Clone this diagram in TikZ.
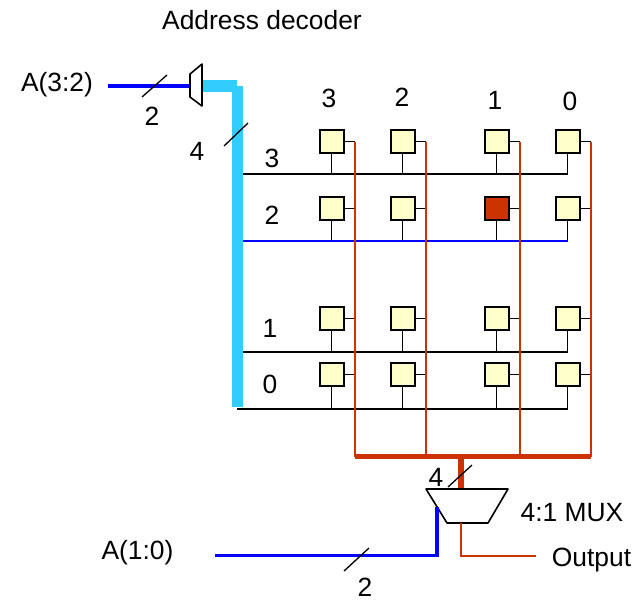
\documentclass[tikz,border=0pt]{standalone}
\usepackage{fontspec}
\setmainfont{Liberation Sans}
\usepackage{tikz}
\usetikzlibrary{positioning}
\definecolor{cellfill}{HTML}{FFFFCC}
\definecolor{muxred}{HTML}{CC3300}
\definecolor{buscyan}{HTML}{33CCFF}
\definecolor{addrblue}{HTML}{0000FF}
\tikzset{
x=1pt, y=-1pt,
node distance=71pt, % column spacing, changed per node where the gap differs
every node/.style={font=\fontsize{26.4}{30}\selectfont, inner sep=0pt, outer sep=0pt},
cell/.style={rectangle, draw=black, line width=2pt, fill=cellfill, minimum width=24pt, minimum height=23pt},
wire/.style={draw=black, line width=1.6pt},
bitline/.style={draw=muxred, line width=1.4pt},
slash/.style={draw=black, line width=1.3pt},
}

\begin{document}
\begin{tikzpicture}
\useasboundingbox (0,0) rectangle (639,600);

% word lines and bit lines
\coordinate (w3) at (243,174);
\coordinate (w2) at (243,241);
\coordinate (w1) at (243,352);
\coordinate (w0) at (237,409);
\coordinate (b3) at (355,141.5);
\coordinate (b2) at (426,141.5);
\coordinate (b1) at (520,141.5);
\coordinate (b0) at (591,141.5);
\coordinate (rbus) at (355,456.5);
\coordinate (rbusend) at (591,456.5);
\coordinate (rdrop) at (461,456.5);

% cells
\node[cell] (c33) at (331.5,141.5) {};
\node[cell, right of=c33] (c32) {};
\node[cell, right of=c32, node distance=94pt] (c31) {};
\node[cell, right of=c31] (c30) {};
\node[cell, below of=c33, node distance=67pt] (c23) {};
\node[cell, right of=c23] (c22) {};
\node[cell, right of=c22, node distance=94pt, fill=muxred] (c21) {};
\node[cell, right of=c21] (c20) {};
\node[cell, below of=c23, node distance=110pt] (c13) {};
\node[cell, right of=c13] (c12) {};
\node[cell, right of=c12, node distance=94pt] (c11) {};
\node[cell, right of=c11] (c10) {};
\node[cell, below of=c13, node distance=56pt] (c03) {};
\node[cell, right of=c03] (c02) {};
\node[cell, right of=c02, node distance=94pt] (c01) {};
\node[cell, right of=c01] (c00) {};

% stems down to the word lines
\draw[wire] (c33) -- (c33 |- w3);
\draw[wire] (c32) -- (c32 |- w3);
\draw[wire] (c31) -- (c31 |- w3);
\draw[wire] (c30) -- (c30 |- w3);
\draw[wire] (c23) -- (c23 |- w2);
\draw[wire] (c22) -- (c22 |- w2);
\draw[wire] (c21) -- (c21 |- w2);
\draw[wire] (c20) -- (c20 |- w2);
\draw[wire] (c13) -- (c13 |- w1);
\draw[wire] (c12) -- (c12 |- w1);
\draw[wire] (c11) -- (c11 |- w1);
\draw[wire] (c10) -- (c10 |- w1);
\draw[wire] (c03) -- (c03 |- w0);
\draw[wire] (c02) -- (c02 |- w0);
\draw[wire] (c01) -- (c01 |- w0);
\draw[wire] (c00) -- (c00 |- w0);

% stubs to the bit lines
\draw[wire] (c33.east) -- (c33.east -| b3);
\draw[wire] (c32.east) -- (c32.east -| b2);
\draw[wire] (c31.east) -- (c31.east -| b1);
\draw[wire] (c30.east) -- (c30.east -| b0);
\draw[wire] (c23.east) -- (c23.east -| b3);
\draw[wire] (c22.east) -- (c22.east -| b2);
\draw[wire] (c21.east) -- (c21.east -| b1);
\draw[wire] (c20.east) -- (c20.east -| b0);
\draw[wire] (c13.east) -- (c13.east -| b3);
\draw[wire] (c12.east) -- (c12.east -| b2);
\draw[wire] (c11.east) -- (c11.east -| b1);
\draw[wire] (c10.east) -- (c10.east -| b0);
\draw[wire] (c03.east) -- (c03.east -| b3);
\draw[wire] (c02.east) -- (c02.east -| b2);
\draw[wire] (c01.east) -- (c01.east -| b1);
\draw[wire] (c00.east) -- (c00.east -| b0);

\draw[wire] (w3) -- (w3 -| c30);
\draw[draw=addrblue, line width=1.4pt] (w2) -- (w2 -| c20);
\draw[wire] (w1) -- (w1 -| c10);
\draw[wire] (w0) -- (w0 -| c00);

\draw[bitline] (b3) -- (b3 |- rbus);
\draw[bitline] (b2) -- (b2 |- rbus);
\draw[bitline] (b1) -- (b1 |- rbus);
\draw[bitline] (b0) -- (b0 |- rbus);

% decoder and its bus
\coordinate (dec1) at (190,74);
\coordinate (dec2) at (202,64);
\coordinate (dec3) at (202,106);
\coordinate (dec4) at (190,97);
\coordinate (a32) at (108,86);
\coordinate (cbend) at (237,86);
\coordinate (cend) at (237.5,407);
\draw[draw=addrblue, line width=3.5pt] (a32) -- (a32 -| dec1);
\draw[draw=buscyan, line width=12pt] (cbend -| dec2) -- (cbend);
\draw[draw=buscyan, line width=11pt] (237.5,86) -- (cend);
\draw[wire, line join=round] (dec1) -- (dec2) -- (dec3) -- (dec4) -- cycle;

% output mux
\coordinate (mux1) at (426,489);
\coordinate (mux2) at (508,489);
\coordinate (mux3) at (488,523);
\coordinate (mux4) at (447,523);
\coordinate (a10) at (215,555.5);
\coordinate (a10up) at (437,507);
\coordinate (outend) at (536,556);
\draw[draw=muxred, line width=5.5pt] (rbus) -- (rbusend);
\draw[draw=muxred, line width=6pt] (rdrop) -- (rdrop |- mux1);
\draw[wire, line join=round] (mux1) -- (mux2) -- (mux3) -- (mux4) -- cycle;
\draw[bitline] (rdrop |- mux4) |- (outend);
\draw[draw=addrblue, line width=3.5pt] (a10) -| (a10up);

% bus width marks
\draw[slash] (142,97) -- (167,75);
\draw[slash] (224,146) -- (248,123);
\draw[slash] (448,487) -- (472,465);
\draw[slash] (344,571) -- (369,548);

% labels
\node (decl) at (262,20.5) {Address decoder};
\node (a32l) at (57,85) {A(3:2)};
\node (a10l) at (137.5,553) {A(1:0)};
\node (muxl) at (572,513) {4:1 MUX};
\node (outl) at (591.5,560) {Output};
\node (wd2) at (152,116) {2};
\node (wd4) at (197,151) {4};
\node (wd4m) at (436,477) {4};
\node (wd2m) at (365,587) {2};
\node (col3) at (329,98) {3};
\node (col2) at (402,97) {2};
\node (col1) at (495,100) {1};
\node (col0) at (570,101) {0};
\node (row3) at (272,158) {3};
\node (row2) at (272,215) {2};
\node (row1) at (270,328) {1};
\node (row0) at (270,384) {0};
\end{tikzpicture}
\end{document}
